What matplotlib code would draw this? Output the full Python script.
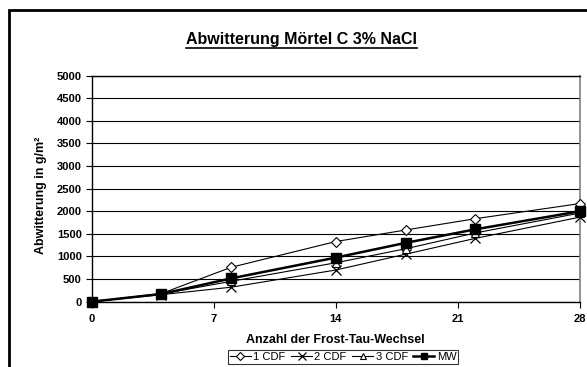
import matplotlib
matplotlib.use("Agg")
import matplotlib.pyplot as plt
from matplotlib.patches import Rectangle
from matplotlib.lines import Line2D

plt.rcParams['font.family'] = ['Liberation Sans', 'DejaVu Sans']

# Frost-Tau-Wechsel
zyklen = [0, 4, 8, 14, 18, 22, 28]
cdf1 = [0, 180, 760, 1330, 1585, 1835, 2170]
cdf2 = [0, 155, 320, 700, 1050, 1400, 1870]
cdf3 = [0, 170, 450, 860, 1170, 1520, 1960]
mw = [0, 170, 515, 975, 1300, 1600, 2000]

x_ticks = [0, 7, 14, 21, 28]
y_ticks = list(range(0, 5001, 500))

fig = plt.figure(figsize=(5.87, 3.67), dpi=100)
ax = fig.add_axes([0.156, 0.178, 0.832, 0.616])

ax.plot(zyklen, cdf1, color='black', lw=0.8, marker='D', ms=5, mfc='white',
        mec='black', mew=0.8, label='1 CDF', clip_on=False, zorder=3)
ax.plot(zyklen, cdf2, color='black', lw=0.8, marker='x', ms=7, mec='black',
        mew=0.9, label='2 CDF', clip_on=False, zorder=3)
ax.plot(zyklen, cdf3, color='black', lw=0.8, marker='^', ms=5.5, mfc='white',
        mec='black', mew=0.8, label='3 CDF', clip_on=False, zorder=3)
ax.plot(zyklen, mw, color='black', lw=1.8, marker='s', ms=6.5, mfc='black',
        mec='black', label='MW', clip_on=False, zorder=4)

ax.set_xlim(0, 28)
ax.set_ylim(0, 5000)
ax.set_xticks(x_ticks)
ax.set_yticks(y_ticks)
ax.tick_params(axis='both', direction='out', length=4, width=0.8, labelsize=8)
for lab in ax.get_xticklabels() + ax.get_yticklabels():
    lab.set_fontweight('bold')
ax.tick_params(axis='x', pad=5)
ax.tick_params(axis='y', pad=3)

ax.grid(axis='y', color='black', lw=0.8)
ax.set_axisbelow(True)
for side in ['left', 'bottom', 'top']:
    ax.spines[side].set_color('black')
    ax.spines[side].set_linewidth(1.0)
ax.spines['right'].set_color('#808080')
ax.spines['right'].set_linewidth(1.2)

ax.set_xlabel('Anzahl der Frost-Tau-Wechsel', fontsize=9, fontweight='bold', labelpad=7)
ax.set_ylabel('Abwitterung in g/m²', fontsize=9, fontweight='bold')
ax.yaxis.set_label_coords(-0.092, 0.47)

leg = ax.legend(loc='upper center', bbox_to_anchor=(0.515, -0.215), ncol=4,
                fontsize=8, frameon=True, fancybox=False, handlelength=1.9,
                handletextpad=0.2, columnspacing=0.5, borderpad=0.15,
                borderaxespad=0, markerscale=0.75)
leg.get_frame().set_edgecolor('black')
leg.get_frame().set_linewidth(0.8)

title = fig.text(0.514, 0.893, 'Abwitterung Mörtel C 3% NaCl', ha='center',
                 va='center', fontsize=11.5, fontweight='bold')

# underline the title
fig.canvas.draw()
bb = title.get_window_extent().transformed(fig.transFigure.inverted())
fig.add_artist(Line2D([bb.x0, bb.x1], [bb.y0 - 0.002, bb.y0 - 0.002],
                      color='black', lw=1.2, transform=fig.transFigure))

# outer chart border
fig.add_artist(Rectangle((0.016, -0.05), 1.1, 1.023, transform=fig.transFigure,
                         fill=False, edgecolor='black', lw=2, clip_on=False))

fig.savefig('out.png', dpi=100)
